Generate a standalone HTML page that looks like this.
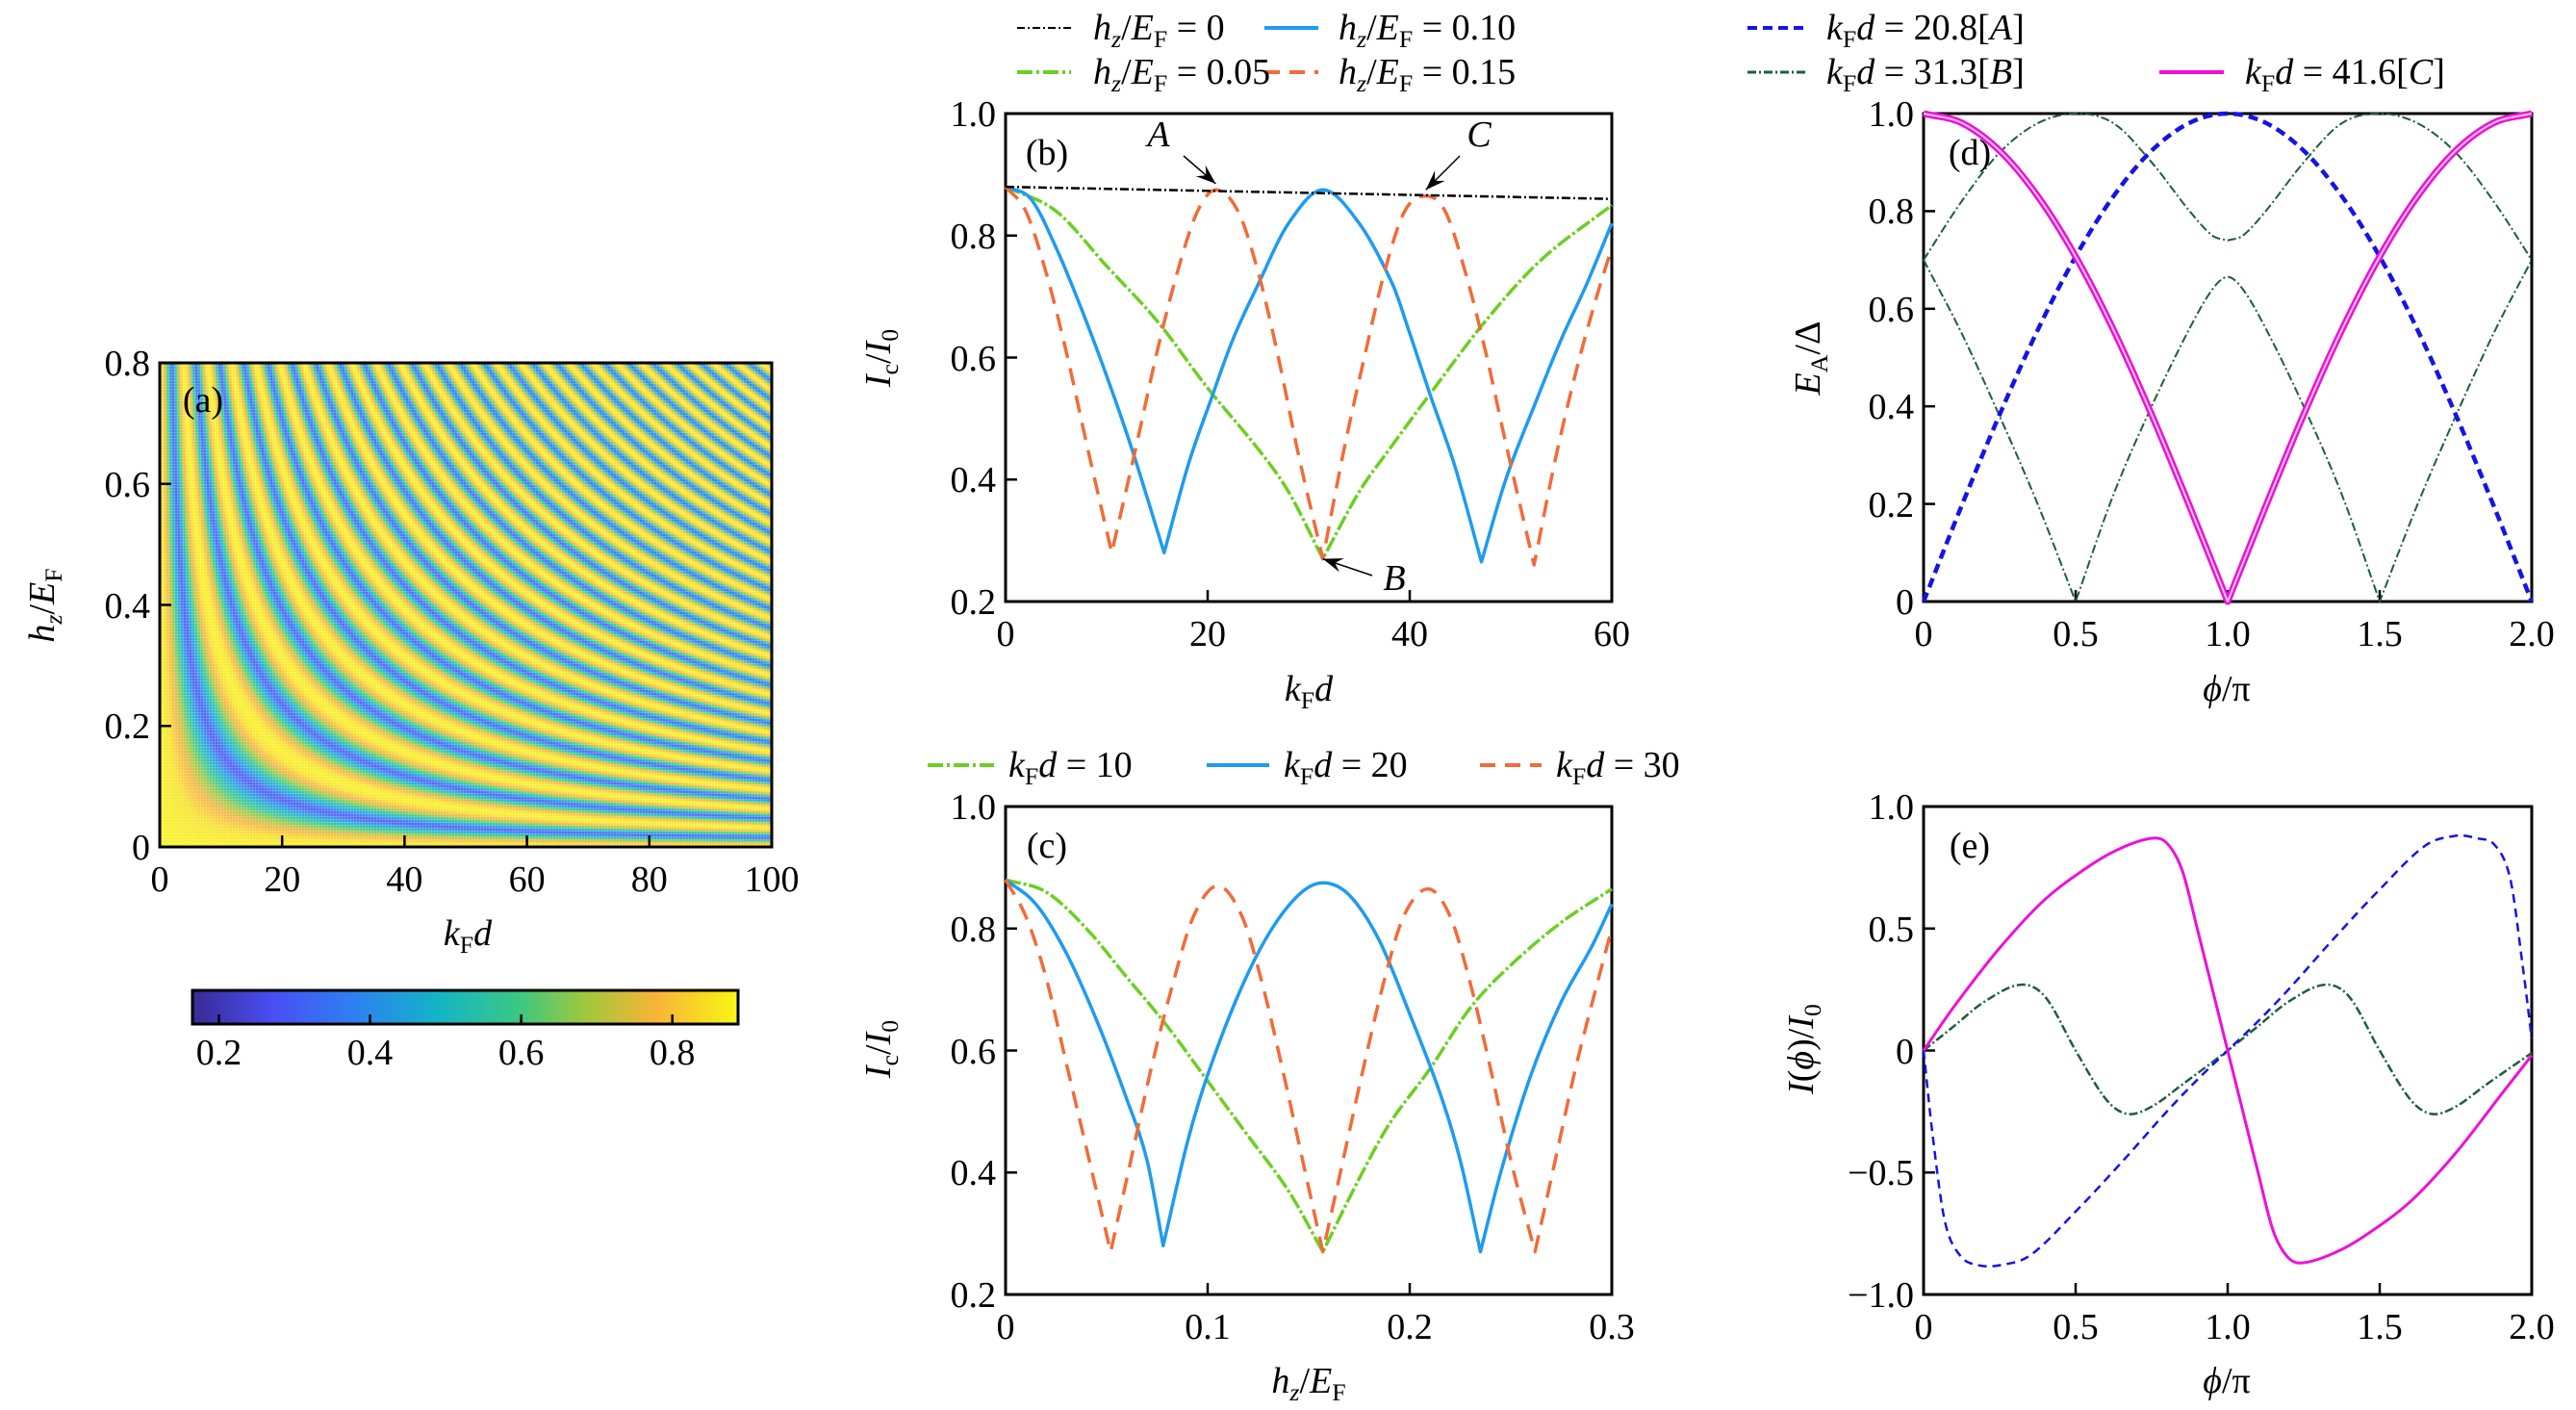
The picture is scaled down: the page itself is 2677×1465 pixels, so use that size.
<!DOCTYPE html>
<html><head><meta charset="utf-8">
<style>
html,body{margin:0;padding:0;background:#fff;}
#root{position:relative;width:2677px;height:1465px;overflow:hidden;font-family:"Liberation Serif",serif;color:#000;}
.t{position:absolute;font-size:38px;white-space:nowrap;line-height:1;}
.c{transform:translate(-50%,-50%);}
.r{transform:translate(-100%,-50%);}
.rot{transform:translate(-50%,-50%) rotate(-90deg);}
.l{transform:translate(0,-50%);}
i{font-style:italic;}
sub{font-size:68%;vertical-align:-0.3em;line-height:0;font-style:normal;}
sub i{font-style:italic;}
svg{position:absolute;left:0;top:0;}
canvas{position:absolute;}
</style></head>
<body>
<div id="root">
<canvas id="heat" width="636" height="503" style="left:166px;top:377px;"></canvas>
<canvas id="cbar" width="567" height="35" style="left:200px;top:1029px;"></canvas>
<svg id="plot" width="2677" height="1465">
  <g id="legend-lines">
    <line x1="1057" y1="29" x2="1113" y2="29" stroke="#000" stroke-width="2" stroke-dasharray="8,3,2,3"/>
    <line x1="1314" y1="29" x2="1370" y2="29" stroke="#1f9bef" stroke-width="4"/>
    <line x1="1057" y1="75" x2="1113" y2="75" stroke="#6ccf22" stroke-width="4" stroke-dasharray="16,4,3,4"/>
    <line x1="1314" y1="75" x2="1370" y2="75" stroke="#f26b38" stroke-width="4" stroke-dasharray="16,10"/>
    <line x1="964" y1="795" x2="1033" y2="795" stroke="#6ccf22" stroke-width="4" stroke-dasharray="16,4,3,4"/>
    <line x1="1254" y1="795" x2="1319" y2="795" stroke="#1f9bef" stroke-width="4"/>
    <line x1="1538" y1="795" x2="1602" y2="795" stroke="#f26b38" stroke-width="4" stroke-dasharray="16,10"/>
    <line x1="1816" y1="29" x2="1879" y2="29" stroke="#1414e6" stroke-width="4" stroke-dasharray="10,6"/>
    <line x1="1816" y1="75" x2="1879" y2="75" stroke="#1d5e3a" stroke-width="3" stroke-dasharray="9,3,2,3"/>
    <line x1="2244" y1="75" x2="2311" y2="75" stroke="#ee10d8" stroke-width="4"/>
  </g>
</svg>

<div class="t c" style="left:211px;top:416px;">(a)</div>
<div class="t c" style="left:1088px;top:159px;">(b)</div>
<div class="t c" style="left:1088px;top:879px;">(c)</div>
<div class="t c" style="left:2047px;top:159px;">(d)</div>
<div class="t c" style="left:2047px;top:879px;">(e)</div>

<div class="t rot" style="left:44px;top:629px;"><i>h</i><sub><i>z</i></sub>/<i>E</i><sub>F</sub></div>
<div class="t c" style="left:486px;top:970px;"><i>k</i><sub>F</sub><i>d</i></div>
<div class="t rot" style="left:913px;top:372px;"><i>I</i><sub>c</sub>/<i>I</i><sub>0</sub></div>
<div class="t c" style="left:1360px;top:716px;"><i>k</i><sub>F</sub><i>d</i></div>
<div class="t rot" style="left:913px;top:1090px;"><i>I</i><sub>c</sub>/<i>I</i><sub>0</sub></div>
<div class="t c" style="left:1360px;top:1435px;"><i>h</i><sub><i>z</i></sub>/<i>E</i><sub>F</sub></div>
<div class="t rot" style="left:1879px;top:372px;"><i>E</i><sub>A</sub>/Δ</div>
<div class="t c" style="left:2314px;top:716px;"><i>ϕ</i>/π</div>
<div class="t rot" style="left:1872px;top:1090px;"><i>I</i>(<i>ϕ</i>)/<i>I</i><sub>0</sub></div>
<div class="t c" style="left:2314px;top:1435px;"><i>ϕ</i>/π</div>

<div class="t l" style="left:1136px;top:29px;"><i>h</i><sub><i>z</i></sub>/<i>E</i><sub>F</sub> = 0</div>
<div class="t l" style="left:1391px;top:29px;"><i>h</i><sub><i>z</i></sub>/<i>E</i><sub>F</sub> = 0.10</div>
<div class="t l" style="left:1136px;top:75px;"><i>h</i><sub><i>z</i></sub>/<i>E</i><sub>F</sub> = 0.05</div>
<div class="t l" style="left:1391px;top:75px;"><i>h</i><sub><i>z</i></sub>/<i>E</i><sub>F</sub> = 0.15</div>
<div class="t l" style="left:1048px;top:795px;"><i>k</i><sub>F</sub><i>d</i> = 10</div>
<div class="t l" style="left:1334px;top:795px;"><i>k</i><sub>F</sub><i>d</i> = 20</div>
<div class="t l" style="left:1617px;top:795px;"><i>k</i><sub>F</sub><i>d</i> = 30</div>
<div class="t l" style="left:1898px;top:29px;"><i>k</i><sub>F</sub><i>d</i> = 20.8[<i>A</i>]</div>
<div class="t l" style="left:1898px;top:75px;"><i>k</i><sub>F</sub><i>d</i> = 31.3[<i>B</i>]</div>
<div class="t l" style="left:2333px;top:75px;"><i>k</i><sub>F</sub><i>d</i> = 41.6[<i>C</i>]</div>

<div class="t c" style="left:1204px;top:140px;"><i>A</i></div>
<div class="t c" style="left:1537px;top:140px;"><i>C</i></div>
<div class="t c" style="left:1449px;top:601px;"><i>B</i></div>

<script>
// ---------- data ----------
const heatProfile = [0.88, 0.85, 0.76, 0.62, 0.45, 0.27, 0.45, 0.62, 0.76, 0.85, 0.88];
const cbarTicks = [0.2, 0.4, 0.6, 0.8];
const cbarMin = 0.165, cbarMax = 0.887;

const aXTicks = [0, 20, 40, 60, 80, 100];
const aYTicks = [0, 0.2, 0.4, 0.6, 0.8];

const bXTicks = [0, 20, 40, 60];
const bYTicks = [0.2, 0.4, 0.6, 0.8, 1.0];
const bX_h0 = [0, 60];
const bY_h0 = [0.88, 0.86];
const bX_h005 = [0, 5, 10, 15, 20, 25, 28, 31.4, 35, 38, 42, 47.5, 53, 60];
const bY_h005 = [0.88, 0.84, 0.75, 0.66, 0.55, 0.45, 0.38, 0.27, 0.38, 0.45, 0.54, 0.66, 0.76, 0.85];
const bX_h010 = [0, 2.5, 5, 7.5, 10, 12.5, 15.7, 18, 20.3, 22.5, 25, 28, 31.4, 35, 38.3, 40, 42, 44.5, 47.1, 49.5, 52.3, 55, 57.5, 60];
const bY_h010 = [0.88, 0.86, 0.78, 0.68, 0.57, 0.45, 0.28, 0.42, 0.53, 0.63, 0.72, 0.82, 0.875, 0.82, 0.72, 0.64, 0.54, 0.42, 0.265, 0.40, 0.52, 0.63, 0.72, 0.82];
const bX_h015 = [0, 2, 4, 6, 8, 10.5, 13, 15, 17, 19, 20.8, 23, 25, 27, 29, 31.4, 33.5, 35.5, 37.5, 39.5, 41.6, 43.5, 45.5, 47.5, 49.5, 52.3, 54.5, 56.5, 58.5, 60];
const bY_h015 = [0.88, 0.84, 0.74, 0.61, 0.46, 0.28, 0.46, 0.61, 0.74, 0.84, 0.875, 0.84, 0.74, 0.60, 0.44, 0.27, 0.45, 0.60, 0.74, 0.84, 0.865, 0.84, 0.74, 0.61, 0.46, 0.26, 0.44, 0.58, 0.70, 0.78];

const cXTicks = [0, 0.1, 0.2, 0.3];
const cXTickLabels = ["0", "0.1", "0.2", "0.3"];
const cYTicks = [0.2, 0.4, 0.6, 0.8, 1.0];
const cX_kd10 = [0, 0.02, 0.04, 0.06, 0.08, 0.1, 0.12, 0.14, 0.157, 0.175, 0.19, 0.21, 0.23, 0.25, 0.275, 0.3];
const cY_kd10 = [0.88, 0.86, 0.80, 0.72, 0.64, 0.55, 0.46, 0.37, 0.27, 0.39, 0.48, 0.57, 0.67, 0.74, 0.81, 0.865];
const cX_kd20 = [0, 0.015, 0.03, 0.045, 0.06, 0.07, 0.078, 0.09, 0.1, 0.115, 0.13, 0.145, 0.157, 0.17, 0.185, 0.2, 0.215, 0.225, 0.235, 0.245, 0.26, 0.275, 0.29, 0.3];
const cY_kd20 = [0.88, 0.84, 0.76, 0.65, 0.52, 0.42, 0.28, 0.45, 0.56, 0.69, 0.79, 0.855, 0.875, 0.855, 0.78, 0.66, 0.53, 0.42, 0.27, 0.40, 0.56, 0.68, 0.77, 0.84];
const cX_kd30 = [0, 0.01, 0.02, 0.03, 0.04, 0.052, 0.062, 0.072, 0.082, 0.093, 0.105, 0.117, 0.127, 0.137, 0.147, 0.157, 0.167, 0.177, 0.187, 0.197, 0.209, 0.22, 0.23, 0.24, 0.25, 0.262, 0.272, 0.282, 0.292, 0.3];
const cY_kd30 = [0.88, 0.82, 0.72, 0.58, 0.44, 0.27, 0.42, 0.57, 0.70, 0.82, 0.87, 0.82, 0.71, 0.57, 0.42, 0.27, 0.42, 0.57, 0.71, 0.82, 0.865, 0.82, 0.71, 0.57, 0.42, 0.27, 0.42, 0.57, 0.70, 0.80];

const phiTicks = [0, 0.5, 1.0, 1.5, 2.0];
const phiTickLabels = ["0", "0.5", "1.0", "1.5", "2.0"];
const dYTicks = [0, 0.2, 0.4, 0.6, 0.8, 1.0];
const dYTickLabels = ["0", "0.2", "0.4", "0.6", "0.8", "1.0"];
const dX = [0, 0.125, 0.25, 0.375, 0.5, 0.625, 0.75, 0.875, 1, 1.125, 1.25, 1.375, 1.5, 1.625, 1.75, 1.875, 2];
const dY_A = [0, 0.196, 0.383, 0.556, 0.707, 0.831, 0.924, 0.981, 1.0, 0.981, 0.924, 0.831, 0.707, 0.556, 0.383, 0.196, 0];
const dY_C = [1.0, 0.981, 0.924, 0.831, 0.707, 0.556, 0.383, 0.195, 0, 0.195, 0.383, 0.556, 0.707, 0.831, 0.924, 0.981, 1.0];
const dX_B = [0, 0.125, 0.25, 0.375, 0.5, 0.625, 0.75, 0.875, 0.95, 1, 1.05, 1.125, 1.25, 1.375, 1.5, 1.625, 1.75, 1.875, 2];
const dY_Bup = [0.70, 0.82, 0.92, 0.98, 1.0, 0.98, 0.90, 0.80, 0.75, 0.74, 0.75, 0.80, 0.90, 0.98, 1.0, 0.98, 0.92, 0.82, 0.70];
const dY_Blo = [0.70, 0.55, 0.38, 0.20, 0, 0.22, 0.40, 0.56, 0.64, 0.665, 0.64, 0.56, 0.40, 0.22, 0, 0.20, 0.38, 0.55, 0.70];

const eYTicks = [-1, -0.5, 0, 0.5, 1];
const eYTickLabels = ["\u22121.0", "\u22120.5", "0", "0.5", "1.0"];
const eX_C = [0, 0.1, 0.25, 0.4, 0.55, 0.65, 0.75, 0.8, 0.85, 0.9, 0.95, 1.0, 1.05, 1.1, 1.15, 1.2, 1.25, 1.35, 1.45, 1.6, 1.75, 1.9, 2.0];
const eY_C = [0, 0.18, 0.42, 0.62, 0.76, 0.83, 0.87, 0.85, 0.74, 0.50, 0.25, 0, -0.25, -0.50, -0.74, -0.85, -0.87, -0.83, -0.76, -0.62, -0.42, -0.18, -0.02];
const eX_A = [0, 0.03, 0.07, 0.12, 0.18, 0.25, 0.35, 0.5, 0.65, 0.8, 0.9, 1.0, 1.1, 1.2, 1.35, 1.5, 1.65, 1.75, 1.82, 1.88, 1.93, 1.97, 2.0];
const eY_A = [0, -0.35, -0.70, -0.84, -0.88, -0.88, -0.84, -0.66, -0.46, -0.25, -0.12, 0, 0.12, 0.25, 0.46, 0.66, 0.84, 0.88, 0.87, 0.84, 0.70, 0.35, 0.05];
const eX_B = [0, 0.1, 0.2, 0.32, 0.4, 0.5, 0.6, 0.67, 0.75, 0.85, 1.0, 1.1, 1.2, 1.32, 1.4, 1.5, 1.6, 1.67, 1.75, 1.85, 2.0];
const eY_B = [0, 0.10, 0.20, 0.27, 0.22, 0.0, -0.20, -0.26, -0.23, -0.14, 0, 0.10, 0.20, 0.27, 0.22, 0.0, -0.20, -0.26, -0.23, -0.14, -0.01];

// ---------- layout ----------
const PA = {l:166, r:802, t:377, b:880, x0:0, x1:100, y0:0, y1:0.8};
const PB = {l:1045, r:1675, t:118, b:625, x0:0, x1:60, y0:0.2, y1:1.0};
const PC = {l:1045, r:1675, t:838, b:1345, x0:0, x1:0.3, y0:0.2, y1:1.0};
const PD = {l:1999, r:2631, t:118, b:625, x0:0, x1:2, y0:0, y1:1.0};
const PE = {l:1999, r:2631, t:838, b:1345, x0:0, x1:2, y0:-1, y1:1};

const NS = "http://www.w3.org/2000/svg";
const svg = document.getElementById('plot');
const root = document.getElementById('root');
function sx(p, v){ return p.l + (v - p.x0) / (p.x1 - p.x0) * (p.r - p.l); }
function sy(p, v){ return p.b - (v - p.y0) / (p.y1 - p.y0) * (p.b - p.t); }

// Catmull-Rom style smoothing; sharp cusps at local minima when cuspMin
function smoothPath(P, cuspMin){
  const n = P.length;
  if (n < 3) return 'M' + P.map(q => q[0].toFixed(1) + ',' + q[1].toFixed(1)).join(' L');
  const sec = [];
  for (let i = 0; i < n - 1; i++) sec.push((P[i+1][1] - P[i][1]) / (P[i+1][0] - P[i][0]));
  const tL = [], tR = [];
  for (let i = 0; i < n; i++){
    if (i === 0){ tL[i] = tR[i] = sec[0]; continue; }
    if (i === n - 1){ tL[i] = tR[i] = sec[n-2]; continue; }
    const a = sec[i-1], b = sec[i];
    if (cuspMin && a > 0 && b < 0){ tL[i] = a; tR[i] = b; continue; }
    const m = (P[i+1][1] - P[i-1][1]) / (P[i+1][0] - P[i-1][0]);
    tL[i] = tR[i] = m;
  }
  let d = 'M' + P[0][0].toFixed(1) + ',' + P[0][1].toFixed(1);
  for (let i = 0; i < n - 1; i++){
    const h = P[i+1][0] - P[i][0];
    const c1x = P[i][0] + h / 3, c1y = P[i][1] + tR[i] * h / 3;
    const c2x = P[i+1][0] - h / 3, c2y = P[i+1][1] - tL[i+1] * h / 3;
    d += ' C' + c1x.toFixed(1) + ',' + c1y.toFixed(1) + ' ' + c2x.toFixed(1) + ',' + c2y.toFixed(1) + ' ' + P[i+1][0].toFixed(1) + ',' + P[i+1][1].toFixed(1);
  }
  return d;
}

function series(p, xs, ys, color, w, dash, name, cusp){
  const el = document.createElementNS(NS, 'path');
  const P = xs.map((x, i) => [sx(p, x), sy(p, ys[i])]);
  el.setAttribute('d', smoothPath(P, cusp));
  el.setAttribute('fill', 'none');
  el.setAttribute('stroke', color);
  el.setAttribute('stroke-width', w);
  el.setAttribute('stroke-linejoin', 'round');
  if (dash) el.setAttribute('stroke-dasharray', dash);
  
  
  svg.appendChild(el);
  return el;
}

function axes(p, xt, xl, yt, yl, name){
  const fr = document.createElementNS(NS, 'rect');
  fr.setAttribute('x', p.l); fr.setAttribute('y', p.t);
  fr.setAttribute('width', p.r - p.l); fr.setAttribute('height', p.b - p.t);
  fr.setAttribute('fill', 'none'); fr.setAttribute('stroke', '#000'); fr.setAttribute('stroke-width', 3);
  
  
  svg.appendChild(fr);
  xt.forEach((v, i) => {
    const x = sx(p, v);
    const tk = document.createElementNS(NS, 'line');
    tk.setAttribute('x1', x); tk.setAttribute('x2', x); tk.setAttribute('y1', p.b); tk.setAttribute('y2', p.b - 12);
    tk.setAttribute('stroke', '#000'); tk.setAttribute('stroke-width', 2.5);
    
    
    svg.appendChild(tk);
    const d = document.createElement('div');
    d.className = 't c';
    d.style.left = x + 'px'; d.style.top = (p.b + 34) + 'px';
    d.textContent = xl[i];
    
    
    root.appendChild(d);
  });
  yt.forEach((v, i) => {
    const y = sy(p, v);
    const tk = document.createElementNS(NS, 'line');
    tk.setAttribute('x1', p.l); tk.setAttribute('x2', p.l + 12); tk.setAttribute('y1', y); tk.setAttribute('y2', y);
    tk.setAttribute('stroke', '#000'); tk.setAttribute('stroke-width', 2.5);
    
    
    svg.appendChild(tk);
    const d = document.createElement('div');
    d.className = 't r';
    d.style.left = (p.l - 10) + 'px'; d.style.top = (y + 1) + 'px';
    d.textContent = yl[i];
    
    
    root.appendChild(d);
  });
}
const f1 = v => v.toFixed(1);
const fInt = v => String(v);
const f1z = v => v === 0 ? "0" : v.toFixed(1);

// ---------- colormap ----------
const cmapStops = [[0,[58,42,150]],[0.15,[72,80,245]],[0.3,[45,130,240]],[0.45,[20,180,200]],[0.6,[60,200,130]],[0.72,[160,200,60]],[0.85,[248,180,56]],[1,[248,246,20]]];
function cmap(t){
  t = Math.max(0, Math.min(1, t));
  for (let i = 1; i < cmapStops.length; i++){
    if (t <= cmapStops[i][0]){
      const a = cmapStops[i-1], b = cmapStops[i];
      const u = (t - a[0]) / (b[0] - a[0]);
      return a[1].map((c, k) => c + (b[1][k] - c) * u);
    }
  }
  return cmapStops[cmapStops.length-1][1];
}
function profileAt(ph){
  const n = heatProfile.length - 1;
  let f = (ph % Math.PI) / Math.PI * n;
  const i = Math.floor(f), u = f - i;
  return heatProfile[i] + (heatProfile[Math.min(i+1, n)] - heatProfile[i]) * u;
}

(function(){
  const cv = document.getElementById('heat');
  const ctx = cv.getContext('2d');
  const W = cv.width, H = cv.height;
  const img = ctx.createImageData(W, H);
  for (let py = 0; py < H; py++){
    const h = PA.y1 - (py + 0.5) / H * (PA.y1 - PA.y0);
    for (let px = 0; px < W; px++){
      const kd = PA.x0 + (px + 0.5) / W * (PA.x1 - PA.x0);
      const v = profileAt(h * kd);
      let c = cmap((v - cbarMin) / (cbarMax - cbarMin));
      if (px % 3 === 0 || py % 3 === 0) c = c.map(q => q + (255 - q) * 0.35);
      const o = (py * W + px) * 4;
      img.data[o] = c[0]; img.data[o+1] = c[1]; img.data[o+2] = c[2]; img.data[o+3] = 255;
    }
  }
  ctx.putImageData(img, 0, 0);
  const cb = document.getElementById('cbar');
  const cc = cb.getContext('2d');
  for (let x = 0; x < cb.width; x++){
    const c = cmap(x / (cb.width - 1));
    cc.fillStyle = 'rgb(' + c.map(Math.round).join(',') + ')';
    cc.fillRect(x, 0, 1, cb.height);
  }
})();

axes(PA, aXTicks, aXTicks.map(fInt), aYTicks, aYTicks.map(f1z), 'panel-a');

(function(){
  const L = 200, R = 767, T = 1029, B = 1064;
  const fr = document.createElementNS(NS, 'rect');
  fr.setAttribute('x', L); fr.setAttribute('y', T); fr.setAttribute('width', R - L); fr.setAttribute('height', B - T);
  fr.setAttribute('fill', 'none'); fr.setAttribute('stroke', '#000'); fr.setAttribute('stroke-width', 3);
  
  
  svg.appendChild(fr);
  cbarTicks.forEach(v => {
    const x = L + (v - cbarMin) / (cbarMax - cbarMin) * (R - L);
    const tk = document.createElementNS(NS, 'line');
    tk.setAttribute('x1', x); tk.setAttribute('x2', x); tk.setAttribute('y1', B); tk.setAttribute('y2', B - 10);
    tk.setAttribute('stroke', '#000'); tk.setAttribute('stroke-width', 2.5);
    
    
    svg.appendChild(tk);
    const d = document.createElement('div');
    d.className = 't c';
    d.style.left = x + 'px'; d.style.top = '1094px';
    d.textContent = v.toFixed(1);
    
    
    root.appendChild(d);
  });
})();

axes(PB, bXTicks, bXTicks.map(fInt), bYTicks, bYTicks.map(f1), 'panel-b');
series(PB, bX_h005, bY_h005, '#6ccf22', 3.5, '16,3,3,3', 'line-h005', true);
series(PB, bX_h010, bY_h010, '#1f9bef', 3.5, null, 'line-h010', true);
series(PB, bX_h015, bY_h015, '#f26b38', 3.5, '18,11', 'line-h015', true);
series(PB, bX_h0, bY_h0, '#000', 2.5, '9,3,2,3', 'line-h0', false);

axes(PC, cXTicks, cXTickLabels, cYTicks, cYTicks.map(f1), 'panel-c');
series(PC, cX_kd10, cY_kd10, '#6ccf22', 3.5, '16,3,3,3', 'line-kd10', true);
series(PC, cX_kd20, cY_kd20, '#1f9bef', 3.5, null, 'line-kd20', true);
series(PC, cX_kd30, cY_kd30, '#f26b38', 3.5, '18,11', 'line-kd30', true);

axes(PD, phiTicks, phiTickLabels, dYTicks, dYTickLabels, 'panel-d');
series(PD, dX_B, dY_Bup, '#1d5e3a', 2, '9,3,2,3', 'line-B-upper', true);
series(PD, dX_B, dY_Blo, '#1d5e3a', 2, '9,3,2,3', 'line-B-lower', true);
series(PD, dX, dY_A, '#1414e6', 4.5, '10,6', 'line-A', true);
series(PD, dX, dY_C, '#ee10d8', 7, null, 'line-C', true);
series(PD, dX, dY_C, '#f8c8f0', 2, null, 'line-C-inner', true);

axes(PE, phiTicks, phiTickLabels, eYTicks, eYTickLabels, 'panel-e');
series(PE, eX_B, eY_B, '#1d5e3a', 2.5, '9,3,2,3', 'current-B', false);
series(PE, eX_A, eY_A, '#1414e6', 2.5, '9,6', 'current-A', false);
series(PE, eX_C, eY_C, '#ee10d8', 3, null, 'current-C', false);

function arrow(x1, y1, x2, y2, name){
  const ln = document.createElementNS(NS, 'line');
  ln.setAttribute('x1', x1); ln.setAttribute('y1', y1); ln.setAttribute('x2', x2); ln.setAttribute('y2', y2);
  ln.setAttribute('stroke', '#000'); ln.setAttribute('stroke-width', 1.5);
  
  
  svg.appendChild(ln);
  const a = Math.atan2(y2 - y1, x2 - x1), L = 22, s = 0.35;
  const hd = document.createElementNS(NS, 'polygon');
  hd.setAttribute('points', [x2 + ',' + y2,
    (x2 - L*Math.cos(a - s)) + ',' + (y2 - L*Math.sin(a - s)),
    (x2 - L*0.6*Math.cos(a)) + ',' + (y2 - L*0.6*Math.sin(a)),
    (x2 - L*Math.cos(a + s)) + ',' + (y2 - L*Math.sin(a + s))].join(' '));
  hd.setAttribute('fill', '#000');
  
  
  svg.appendChild(hd);
}
arrow(1230, 162, sx(PB, 20.8), sy(PB, 0.885), 'arrow-A');
arrow(1517, 162, sx(PB, 41.6), sy(PB, 0.875), 'arrow-C');
arrow(1426, 598, sx(PB, 31.4), sy(PB, 0.27), 'arrow-B');
</script>
</div>
</body></html>
